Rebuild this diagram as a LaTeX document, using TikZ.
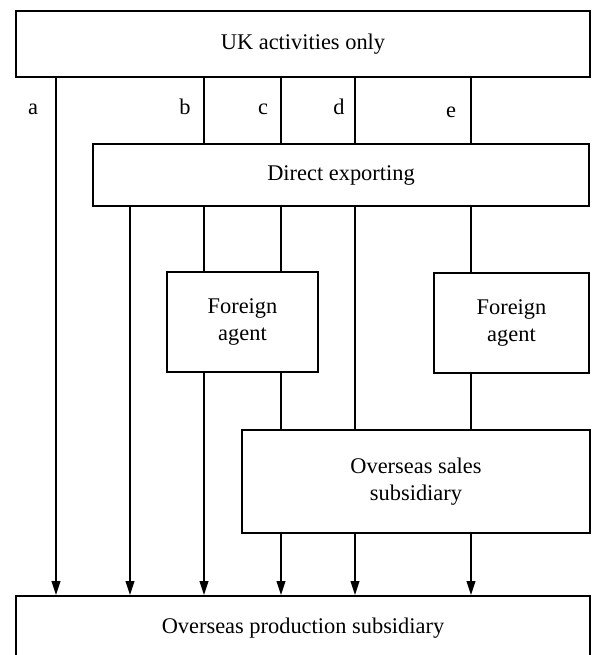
\documentclass[tikz,border=0pt]{standalone}
\usepackage{fontspec}
\setmainfont{Liberation Serif}
\usetikzlibrary{arrows.meta}
\begin{document}
\begin{tikzpicture}[>={Triangle[length=7pt,width=4.4pt]},x=0.5pt,y=-0.5pt,font=\fontsize{11.2}{13.5}\selectfont,
    box/.style={draw,line width=1pt,align=center,inner sep=0pt},
    link/.style={line width=0.8pt}]
    \clip (0,0) rectangle (592,655);
    % boxes
    \node[box,minimum width=287pt,minimum height=33pt] (uk) at (303,44) {UK activities only};
    \node[box,minimum width=248pt,minimum height=31pt] (dexp) at (341,175) {Direct exporting};
    \node[box,minimum width=75.5pt,minimum height=50pt] (agA) at (242.5,322) {Foreign\\agent};
    \node[box,minimum width=77.5pt,minimum height=50pt] (agB) at (511.5,323) {Foreign\\agent};
    \node[box,minimum width=174pt,minimum height=51.5pt] (sales) at (416,481.5) {Overseas sales\\subsidiary};
    \node[box,minimum width=287pt,minimum height=32pt] (prod) at (303,628) {Overseas production subsidiary};
    % routes
    \coordinate (xa) at (56,0);
    \coordinate (xf) at (130,0);
    \coordinate (xb) at (204,0);
    \coordinate (xc) at (281,0);
    \coordinate (xd) at (355,0);
    \coordinate (xe) at (471,0);
    \node[anchor=base] (la) at (33,114) {a};
    \node[anchor=base] (lb) at (185,114) {b};
    \node[anchor=base] (lc) at (263,114) {c};
    \node[anchor=base] (ld) at (339,114) {d};
    \node[anchor=base] (le) at (451,117) {e};
    \foreach \k in {xb,xc,xd,xe}
        \draw[link] (uk.south -| \k) -- (dexp.north -| \k);
    \draw[link,->] (uk.south -| xa) -- (prod.north -| xa);
    \draw[link,->] (dexp.south -| xf) -- (prod.north -| xf);
    \foreach \k in {xb,xc}
        \draw[link] (dexp.south -| \k) -- (agA.north -| \k);
    \draw[link] (dexp.south -| xd) -- (sales.north -| xd);
    \draw[link] (dexp.south -| xe) -- (agB.north -| xe);
    \draw[link,->] (agA.south -| xb) -- (prod.north -| xb);
    \draw[link] (agA.south -| xc) -- (sales.north -| xc);
    \draw[link] (agB.south -| xe) -- (sales.north -| xe);
    \foreach \k in {xc,xd,xe}
        \draw[link,->] (sales.south -| \k) -- (prod.north -| \k);
\end{tikzpicture}
\end{document}
